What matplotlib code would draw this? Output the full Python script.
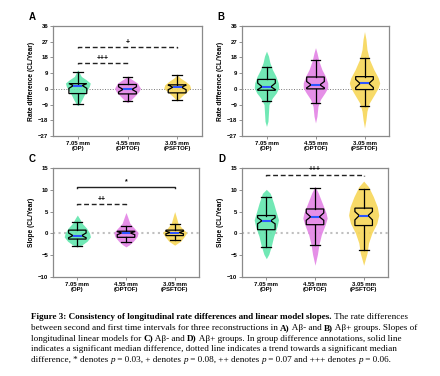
import numpy as np
import matplotlib
matplotlib.use("Agg")
from matplotlib import pyplot as plt

categories = ["7.05 mm\n(OP)", "4.55 mm\n(OPTOF)", "3.05 mm\n(PSFTOF)"]
colors = ["#62e6ad", "#e383e5", "#f7d658"]

# box stats per group: (whislo, q1, med, q3, whishi, cilo, cihi)
a_box = [(-8.9, -2.7, 1.9, 3.0, 9.7, 0.3, 3.0),
         (-7.2, -2.9, -0.3, 2.5, 6.8, -1.8, 1.2),
         (-6.2, -2.3, 0.9, 2.3, 7.8, -0.5, 2.2)]
b_box = [(-7.2, -0.8, 1.2, 5.4, 12.6, -0.4, 3.3),
         (-8.1, 0.0, 2.3, 6.8, 16.7, 0.6, 4.2),
         (-9.7, -0.4, 3.1, 7.0, 17.8, 0.8, 5.4)]
c_box = [(-2.8, -1.3, -0.5, 0.75, 2.7, -1.0, 0.1),
         (-2.05, -0.9, 0.1, 0.5, 1.8, -0.3, 0.4),
         (-1.4, -0.5, 0.2, 0.75, 2.2, -0.1, 0.5)]
d_box = [(-3.2, 0.85, 2.9, 4.1, 8.3, 2.2, 3.6),
         (-2.7, 2.0, 3.8, 5.6, 10.5, 3.0, 4.7),
         (-3.8, 1.8, 4.1, 5.8, 10.1, 3.1, 5.0)]

# violin outlines: y values and half widths (x units)
a_vy = [[-9.6, -8.8, -6.3, -3.4, -0.6, 1.3, 3.3, 5.2, 7.1, 10.9],
        [-7.9, -6.3, -4.0, -1.5, 0.4, 3.3, 5.2, 7.1],
        [-6.9, -4.0, -1.5, 0.4, 2.3, 4.2, 6.1, 8.0]]
a_vw = [[0.0, 0.03, 0.08, 0.13, 0.19, 0.23, 0.25, 0.17, 0.07, 0.0],
        [0.0, 0.07, 0.15, 0.23, 0.26, 0.2, 0.1, 0.0],
        [0.0, 0.1, 0.2, 0.27, 0.25, 0.17, 0.07, 0.0]]
b_vy = [[-21.5, -18.6, -13.8, -9.0, -5.2, -2.3, 0.6, 3.4, 7.3, 11.1, 15.0, 18.8, 21.6],
        [-19.5, -15.7, -10.0, -6.1, -2.3, 0.6, 3.4, 7.3, 11.1, 15.9, 20.7, 23.6],
        [-22.4, -17.6, -12.8, -8.0, -3.3, 0.6, 3.4, 6.3, 11.1, 16.9, 22.6, 28.4, 32.8]]
b_vw = [[0.0, 0.03, 0.04, 0.05, 0.12, 0.2, 0.25, 0.24, 0.19, 0.12, 0.07, 0.04, 0.0],
        [0.0, 0.03, 0.05, 0.1, 0.19, 0.25, 0.25, 0.2, 0.13, 0.07, 0.03, 0.0],
        [0.0, 0.03, 0.05, 0.1, 0.2, 0.28, 0.31, 0.28, 0.19, 0.1, 0.05, 0.03, 0.0]]
c_vy = [[-3.1, -2.6, -1.8, -0.8, 0.1, 1.2, 2.3, 3.5, 4.2],
        [-3.1, -2.6, -1.8, -0.7, 0.2, 1.2, 2.3, 3.9, 4.8],
        [-2.7, -1.8, -0.7, 0.2, 1.2, 2.3, 3.9, 5.0]]
c_vw = [[0.0, 0.1, 0.2, 0.27, 0.25, 0.19, 0.1, 0.04, 0.0],
        [0.0, 0.07, 0.15, 0.23, 0.25, 0.17, 0.08, 0.03, 0.0],
        [0.0, 0.12, 0.2, 0.25, 0.15, 0.07, 0.03, 0.0]]
d_vy = [[-5.8, -4.8, -3.0, -0.7, 1.6, 3.1, 4.6, 6.9, 9.2, 10.1],
        [-7.3, -4.8, -2.6, -0.3, 2.0, 3.5, 4.6, 6.9, 9.2, 10.8],
        [-7.3, -4.5, -2.2, 0.1, 2.3, 4.2, 6.1, 8.4, 10.7, 12.0]]
d_vw = [[0.0, 0.05, 0.1, 0.15, 0.22, 0.25, 0.21, 0.15, 0.08, 0.0],
        [0.0, 0.05, 0.08, 0.13, 0.21, 0.25, 0.23, 0.15, 0.07, 0.0],
        [0.0, 0.07, 0.1, 0.17, 0.27, 0.31, 0.28, 0.2, 0.1, 0.0]]

# significance brackets: (x0, x1, y, label, dashed)
a_sig = [(0, 1, 15.0, "+++", True), (0, 2, 24.2, "+", True)]
b_sig = []
c_sig = [(0, 1, 6.8, "++", True), (0, 2, 10.7, "*", False)]
d_sig = [(0, 2, 13.5, "+++", True)]

tick_font = dict(fontsize=4.3, fontweight="bold", family="Liberation Sans")


def draw_panel(ax, boxes, vys, vws, sigs, ylim, yticks, ylabel, letter, light_zero):
    for i in range(3):
        vy = np.array(vys[i])
        vw = np.array(vws[i])
        ax.fill_betweenx(vy, i - vw, i + vw, color=colors[i], lw=0, alpha=0.9, zorder=1)
    stats = []
    for b in boxes:
        stats.append(dict(whislo=b[0], q1=b[1], med=b[2], q3=b[3], whishi=b[4],
                          cilo=b[5], cihi=b[6], fliers=[]))
    ax.bxp(stats, positions=[0, 1, 2], widths=0.36, capwidths=0.2, shownotches=True,
           showfliers=False, patch_artist=True,
           boxprops=dict(facecolor="none", edgecolor="k", lw=0.9),
           whiskerprops=dict(color="k", lw=0.9), capprops=dict(color="k", lw=0.9),
           medianprops=dict(color="#2d55ff", lw=1.5), zorder=3)
    if light_zero:
        ax.axhline(0, color="#c0c0c0", ls=":", lw=1.5, zorder=0)
    else:
        ax.axhline(0, color="#777777", ls=":", lw=0.7, zorder=0)
    span = ylim[1] - ylim[0]
    for x0, x1, y, lab, dashed in sigs:
        leg = span * 0.012
        ax.plot([x0, x0, x1, x1], [y - leg, y, y, y - leg], color="#222222", lw=1.0,
                ls=(0, (3.5, 2)) if dashed else "-", zorder=4)
        ax.text((x0 + x1) / 2, y + span * 0.01, lab, ha="center", va="bottom",
                fontsize=5, fontweight="bold", family="Liberation Sans")
    ax.set_xlim(-0.5, 2.5)
    ax.set_ylim(*ylim)
    ax.set_yticks(yticks)
    ax.set_yticklabels([str(t).replace("-", "\u2212") for t in yticks], **tick_font)
    ax.set_xticks([0, 1, 2])
    ax.set_xticklabels(categories, linespacing=1.0, **tick_font)
    ax.tick_params(length=2, width=0.6, color="#808080", pad=1.5)
    for s in ax.spines.values():
        s.set_color("#8a8a8a")
        s.set_linewidth(0.9)
    ax.set_ylabel(ylabel, fontsize=4.8, fontweight="bold", family="Liberation Sans", labelpad=2)
    ax.text(-0.165, 1.08, letter, transform=ax.transAxes, fontsize=7, fontweight="bold",
            family="Liberation Sans", ha="left", va="center")


W, H = 440, 376
fig = plt.figure(figsize=(W / 100, H / 100), dpi=100)


def box_axes(l, t, r, b):
    return fig.add_axes([l / W, 1 - b / H, (r - l) / W, (b - t) / H])


ax_a = box_axes(53, 26, 202, 136)
ax_b = box_axes(242, 26, 389, 136)
ax_c = box_axes(53, 168, 199, 277)
ax_d = box_axes(242, 168, 388, 277)

rate_ticks = [-27, -18, -9, 0, 9, 18, 27, 36]
slope_ticks = [-10, -5, 0, 5, 10, 15]
draw_panel(ax_a, a_box, a_vy, a_vw, a_sig, (-27, 36), rate_ticks, "Rate difference (CL/Year)", "A", False)
draw_panel(ax_b, b_box, b_vy, b_vw, b_sig, (-27, 36), rate_ticks, "Rate difference (CL/Year)", "B", False)
draw_panel(ax_c, c_box, c_vy, c_vw, c_sig, (-10, 15), slope_ticks, "Slope (CL/Year)", "C", True)
draw_panel(ax_d, d_box, d_vy, d_vw, d_sig, (-10, 15), slope_ticks, "Slope (CL/Year)", "D", True)

# caption, drawn run by run so bold / italic parts sit inline
caption = [
    [("Figure 3: Consistency of longitudinal rate differences and linear model slopes.", "bold", "normal"),
     (" The rate differences", "normal", "normal")],
    [("between second and first time intervals for three reconstructions in ", "normal", "normal"),
     ("A)", "bold", "normal"), (" A\u03b2- and ", "normal", "normal"), ("B)", "bold", "normal"),
     (" A\u03b2+ groups. Slopes of", "normal", "normal")],
    [("longitudinal linear models for ", "normal", "normal"), ("C)", "bold", "normal"),
     (" A\u03b2- and ", "normal", "normal"), ("D)", "bold", "normal"),
     (" A\u03b2+ groups. In group difference annotations, solid line", "normal", "normal")],
    [("indicates a significant median difference, dotted line indicates a trend towards a significant median",
      "normal", "normal")],
    [("difference, * denotes ", "normal", "normal"), ("p", "normal", "italic"),
     (" = 0.03, + denotes ", "normal", "normal"), ("p", "normal", "italic"),
     (" = 0.08, ++ denotes ", "normal", "normal"), ("p", "normal", "italic"),
     (" = 0.07 and +++ denotes ", "normal", "normal"), ("p", "normal", "italic"),
     (" = 0.06.", "normal", "normal")],
]
cap_size = 6.6
renderer = fig.canvas.get_renderer()


def run_width(s, weight, style):
    t1 = fig.text(0, 0, s + "|", fontsize=cap_size, fontweight=weight, fontstyle=style,
                  family="Liberation Serif")
    t2 = fig.text(0, 0, "|", fontsize=cap_size, fontweight=weight, fontstyle=style,
                  family="Liberation Serif")
    w = t1.get_window_extent(renderer).width - t2.get_window_extent(renderer).width
    t1.remove()
    t2.remove()
    return w


y_px = 317
for line in caption:
    x_px = 31
    for s, weight, style in line:
        fig.text(x_px / W, 1 - y_px / H, s, fontsize=cap_size, fontweight=weight, fontstyle=style,
                 family="Liberation Serif", ha="left", va="center")
        x_px += run_width(s, weight, style)
    y_px += 10.8

fig.savefig("out.png", dpi=100)
